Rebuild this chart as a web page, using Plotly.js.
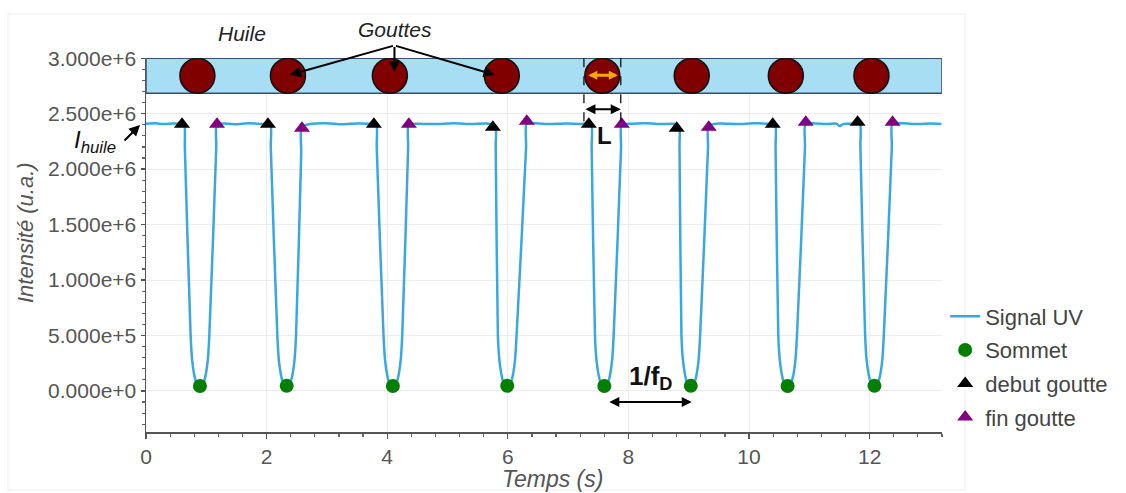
<!DOCTYPE html>
<html>
<head>
<meta charset="utf-8">
<script src="https://cdn.plot.ly/plotly-3.0.1.min.js"></script>
<style>
  html, body { margin: 0; padding: 0; background: #ffffff; }
  #chart { width: 1126px; height: 493px; }
</style>
</head>
<body>
<div id="chart"></div>
<script>
// ---- Signal UV (time in s, intensity in a.u.) ----
const signalTime = [
  0.00, 0.15, 0.30, 0.45, 0.60,
  0.637, 0.644, 0.740, 0.765, 0.795, 0.825, 0.860, 0.895, 0.930, 0.965, 0.995, 1.025, 1.050, 1.165, 1.172,
  1.30, 1.50, 1.70, 1.90,
  2.062, 2.069, 2.178, 2.203, 2.233, 2.263, 2.298, 2.333, 2.368, 2.403, 2.433, 2.463, 2.488, 2.574, 2.581,
  2.75, 3.00, 3.25, 3.50, 3.70,
  3.819, 3.826, 3.939, 3.964, 3.994, 4.024, 4.059, 4.094, 4.129, 4.164, 4.194, 4.224, 4.249, 4.347, 4.354,
  4.50, 4.80, 5.10, 5.40, 5.65,
  5.792, 5.799, 5.835, 5.860, 5.890, 5.920, 5.955, 5.990, 6.025, 6.060, 6.090, 6.120, 6.145, 6.303, 6.310,
  6.45, 6.70, 6.95, 7.20,
  7.383, 7.390, 7.445, 7.470, 7.500, 7.530, 7.565, 7.600, 7.635, 7.670, 7.700, 7.730, 7.755, 7.878, 7.885,
  8.05, 8.30, 8.55, 8.75,
  8.840, 8.847, 8.879, 8.904, 8.934, 8.964, 8.999, 9.034, 9.069, 9.104, 9.134, 9.164, 9.189, 9.320, 9.327,
  9.50, 9.80, 10.10, 10.30,
  10.433, 10.440, 10.485, 10.510, 10.540, 10.570, 10.605, 10.640, 10.675, 10.710, 10.740, 10.770, 10.795, 10.928, 10.935,
  11.10, 11.30, 11.45, 11.50, 11.56, 11.75,
  11.840, 11.847, 11.925, 11.950, 11.980, 12.010, 12.045, 12.080, 12.115, 12.150, 12.180, 12.210, 12.235, 12.368, 12.375,
  12.55, 12.80, 13.00, 13.19
];
const signalValue = [
  2.410e6, 2.414e6, 2.406e6, 2.412e6, 2.408e6,
  2.400e6, 2.200e6, 5.0e5, 2.8e5, 1.6e5, 9.0e4, 6.0e4, 4.5e4, 6.0e4, 9.0e4, 1.6e5, 2.8e5, 5.0e5, 2.200e6, 2.400e6,
  2.411e6, 2.405e6, 2.413e6, 2.408e6,
  2.400e6, 2.200e6, 5.0e5, 2.8e5, 1.6e5, 9.0e4, 6.0e4, 4.6e4, 6.0e4, 9.0e4, 1.6e5, 2.8e5, 5.0e5, 2.150e6, 2.380e6,
  2.409e6, 2.414e6, 2.405e6, 2.412e6, 2.409e6,
  2.400e6, 2.200e6, 5.0e5, 2.8e5, 1.6e5, 9.0e4, 6.0e4, 4.5e4, 6.0e4, 9.0e4, 1.6e5, 2.8e5, 5.0e5, 2.200e6, 2.400e6,
  2.410e6, 2.406e6, 2.413e6, 2.407e6, 2.411e6,
  2.390e6, 2.200e6, 5.0e5, 2.8e5, 1.6e5, 9.0e4, 6.0e4, 4.7e4, 6.0e4, 9.0e4, 1.6e5, 2.8e5, 5.0e5, 2.200e6, 2.410e6,
  2.413e6, 2.407e6, 2.412e6, 2.408e6,
  2.400e6, 2.200e6, 5.0e5, 2.8e5, 1.6e5, 9.0e4, 6.0e4, 4.5e4, 6.0e4, 9.0e4, 1.6e5, 2.8e5, 5.0e5, 2.200e6, 2.400e6,
  2.410e6, 2.414e6, 2.406e6, 2.409e6,
  2.385e6, 2.200e6, 5.0e5, 2.8e5, 1.6e5, 9.0e4, 6.0e4, 4.6e4, 6.0e4, 9.0e4, 1.6e5, 2.8e5, 5.0e5, 2.200e6, 2.390e6,
  2.411e6, 2.406e6, 2.413e6, 2.409e6,
  2.400e6, 2.200e6, 5.0e5, 2.8e5, 1.6e5, 9.0e4, 6.0e4, 4.5e4, 6.0e4, 9.0e4, 1.6e5, 2.8e5, 5.0e5, 2.200e6, 2.410e6,
  2.412e6, 2.407e6, 2.410e6, 2.388e6, 2.406e6, 2.412e6,
  2.410e6, 2.200e6, 5.0e5, 2.8e5, 1.6e5, 9.0e4, 6.0e4, 4.6e4, 6.0e4, 9.0e4, 1.6e5, 2.8e5, 5.0e5, 2.200e6, 2.410e6,
  2.413e6, 2.406e6, 2.411e6, 2.408e6
];

// ---- detected points ----
const sommetTime  = [0.895, 2.333, 4.094, 5.990, 7.600, 9.034, 10.640, 12.080];
const sommetValue = [4.5e4, 4.6e4, 4.5e4, 4.7e4, 4.5e4, 4.6e4, 4.5e4, 4.6e4];
const debutTime   = [0.597, 2.022, 3.779, 5.752, 7.343, 8.800, 10.393, 11.800];
const debutValue  = [2.405e6, 2.405e6, 2.405e6, 2.378e6, 2.405e6, 2.369e6, 2.405e6, 2.423e6];
const finTime     = [1.177, 2.586, 4.359, 6.315, 7.890, 9.332, 10.940, 12.380];
const finValue    = [2.405e6, 2.369e6, 2.405e6, 2.432e6, 2.405e6, 2.378e6, 2.423e6, 2.423e6];

// ---- schematic (droplets in the oil channel) ----
const dropletTime = [0.852, 2.354, 4.044, 5.900, 7.567, 9.050, 10.610, 12.030];
const dropletLevel = 2.842e6;
const channelBottom = 2.685e6, channelTop = 3.0e6;
const axisRangeX = [0, 13.2];
const axisRangeY = [-3.7e5, 3.002e6];

const FONT = 'Arial, "Liberation Sans", sans-serif';
const GREY = '#555555';

const traces = [
  { x: signalTime, y: signalValue, type: 'scatter', mode: 'lines', name: 'Signal UV', legendgroup: 'a',
    line: { color: '#3aa8df', width: 2.5, shape: 'spline', smoothing: 0.6 } },
  { x: sommetTime, y: sommetValue, type: 'scatter', mode: 'markers', name: 'Sommet', legendgroup: 'b',
    marker: { color: '#007f00', size: 14, symbol: 'circle' } },
  { x: debutTime, y: debutValue, type: 'scatter', mode: 'markers', name: 'debut goutte', legendgroup: 'c',
    marker: { color: '#000000', size: 14, symbol: 'triangle-up' } },
  { x: finTime, y: finValue, type: 'scatter', mode: 'markers', name: 'fin goutte', legendgroup: 'd',
    marker: { color: '#800080', size: 14, symbol: 'triangle-up' } }
];

const shapes = [
  // faint outer frame
  { type: 'rect', xref: 'paper', yref: 'paper', x0: -0.1734, x1: 1.029, y0: -0.155, y1: 1.118,
    line: { color: '#eeeeee', width: 1 }, fillcolor: 'rgba(0,0,0,0)', layer: 'below' },
  // oil channel
  { type: 'rect', xref: 'x', yref: 'y', x0: axisRangeX[0], x1: axisRangeX[1], y0: channelBottom, y1: channelTop,
    line: { color: '#3b4d72', width: 1.5 }, fillcolor: '#a7def3', layer: 'above' }
];
dropletTime.forEach(t => {
  shapes.push({ type: 'circle', xref: 'x', yref: 'y', xsizemode: 'pixel', ysizemode: 'pixel',
    xanchor: t, yanchor: dropletLevel, x0: -17.5, x1: 17.5, y0: -17.5, y1: 17.5,
    fillcolor: '#800000', line: { color: '#111111', width: 1.5 }, layer: 'above' });
});
// dashed lines for droplet length L (5th droplet)
[7.262, 7.873].forEach(t => {
  shapes.push({ type: 'line', xref: 'x', yref: 'y', x0: t, x1: t, y0: 3.0e6, y1: 2.37e6,
    line: { color: '#111111', width: 1.3, dash: 'dash' }, layer: 'above' });
});

function dbl(x0, x1, y, color, w, s) {
  return { x: x1, y: y, ax: x0, ay: y, xref: 'x', yref: 'y', axref: 'x', ayref: 'y',
    text: '', showarrow: true, arrowhead: 2, startarrowhead: 2, arrowside: 'end+start',
    arrowsize: s, startarrowsize: s, arrowwidth: w, arrowcolor: color, standoff: 0, startstandoff: 0 };
}
function arr(xh, yh, xt, yt) {
  return { x: xh, y: yh, ax: xt, ay: yt, xref: 'x', yref: 'y', axref: 'x', ayref: 'y',
    text: '', showarrow: true, arrowhead: 2, arrowsize: 1.1, arrowwidth: 2, arrowcolor: '#000000', standoff: 0 };
}

const annotations = [
  // axis titles
  { xref: 'paper', yref: 'paper', x: 0.511, y: -0.1257, xanchor: 'center', yanchor: 'middle',
    text: 'Temps (s)', showarrow: false,
    font: { family: FONT, size: 23, color: GREY, style: 'italic' } },
  { xref: 'paper', yref: 'paper', x: -0.152, y: 0.532, xanchor: 'center', yanchor: 'middle', textangle: -90,
    text: 'Intensité (u.a.)', showarrow: false,
    font: { family: FONT, size: 22, color: GREY, style: 'italic' } },
  // schematic labels
  { xref: 'paper', yref: 'paper', x: 0.1206, y: 1.0668, xanchor: 'center', yanchor: 'middle', text: 'Huile', showarrow: false,
    font: { family: FONT, size: 21, color: '#222222', style: 'italic' } },
  { xref: 'paper', yref: 'paper', x: 0.3128, y: 1.0749, xanchor: 'center', yanchor: 'middle', text: 'Gouttes', showarrow: false,
    font: { family: FONT, size: 21, color: '#222222', style: 'italic' } },
  arr(2.39, 2.85e6, 4.12, 3.115e6),
  arr(4.12, 2.875e6, 4.12, 3.115e6),
  arr(5.78, 2.85e6, 4.12, 3.115e6),
  { xref: 'paper', yref: 'paper', x: -0.0645, y: 0.778, xanchor: 'center', yanchor: 'middle',
    text: '<i>I</i><sub><i>huile</i></sub>', showarrow: false,
    font: { family: FONT, size: 24, color: '#111111' } },
  { xref: 'paper', yref: 'paper', x: -0.0075, y: 0.821, ax: -17, ay: 17, text: '', showarrow: true,
    arrowhead: 2, arrowsize: 1.1, arrowwidth: 2, arrowcolor: '#000000', standoff: 0 },
  dbl(7.31, 7.824, 2.847e6, '#f5a800', 3, 0.6),
  dbl(7.262, 7.873, 2.541e6, '#000000', 2, 1),
  { xref: 'x', yref: 'y', x: 7.6, y: 2.3e6, text: '<b>L</b>', showarrow: false,
    font: { family: FONT, size: 24, color: '#111111' } },
  dbl(7.658, 9.05, -1.0e5, '#000000', 2, 1),
  { xref: 'x', yref: 'y', x: 8.36, y: 1.25e5, text: '<b>1/f<sub>D</sub></b>', showarrow: false,
    font: { family: FONT, size: 26, color: '#111111' } }
];

const layout = {
  width: 1126, height: 493,
  margin: { l: 146, r: 184, t: 58, b: 61 },
  paper_bgcolor: '#ffffff', plot_bgcolor: '#ffffff',
  font: { family: FONT, color: GREY },
  showlegend: true,
  legend: { x: 1.004, y: 0.365, xanchor: 'left', yanchor: 'top', bgcolor: 'rgba(0,0,0,0)',
    font: { family: FONT, size: 22, color: '#444444' }, itemwidth: 30, tracegroupgap: 2 },
  xaxis: {
    range: axisRangeX, tick0: 0, dtick: 2, showgrid: true, gridcolor: '#ececec', gridwidth: 1,
    zeroline: false, showline: true, linecolor: '#555555', linewidth: 1.5,
    ticks: 'outside', ticklen: 5, tickwidth: 1.3, tickcolor: '#555555',
    tickfont: { family: FONT, size: 21, color: GREY },
    minor: { dtick: 0.4, ticks: 'outside', ticklen: 3, tickwidth: 1.2, tickcolor: '#666666', showgrid: false },
    automargin: false
  },
  yaxis: {
    range: axisRangeY, tick0: 0, dtick: 5e5, tickformat: '.3e', showgrid: true, gridcolor: '#ececec', gridwidth: 1,
    zeroline: false, showline: true, linecolor: '#555555', linewidth: 1.5,
    ticks: 'outside', ticklen: 4, tickwidth: 1.3, tickcolor: '#555555',
    tickfont: { family: FONT, size: 21, color: GREY },
    minor: { dtick: 1e5, ticks: 'outside', ticklen: 3, tickwidth: 1.2, tickcolor: '#666666', showgrid: false },
    automargin: false
  },
  shapes: shapes,
  annotations: annotations
};

Plotly.newPlot('chart', traces, layout, { displayModeBar: false, staticPlot: true });
</script>
</body>
</html>
